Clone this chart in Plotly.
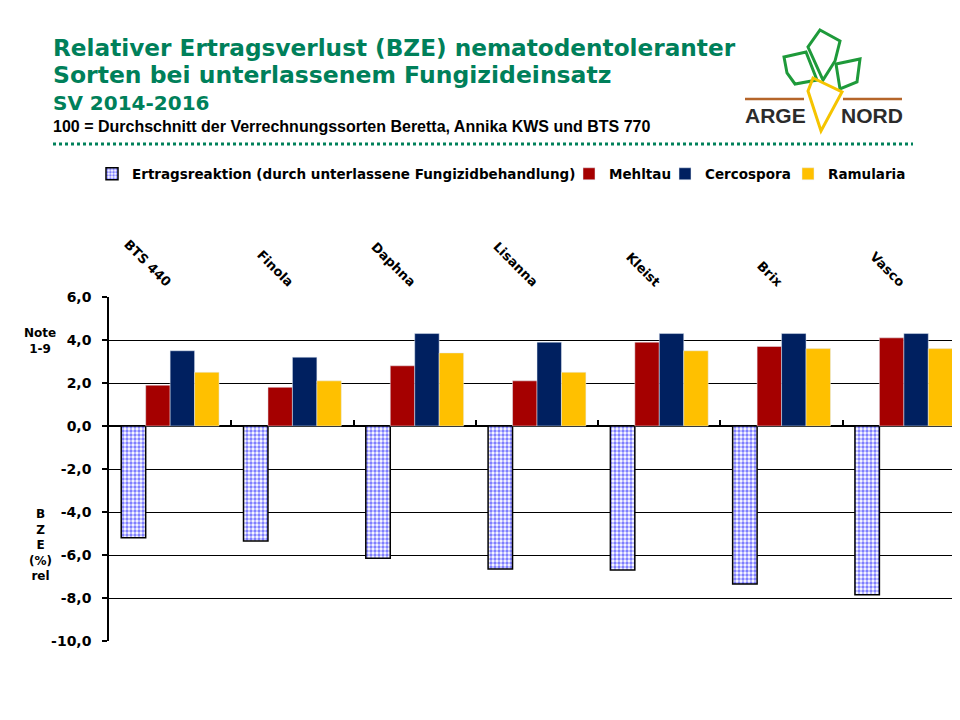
import plotly.graph_objects as go

categories = ["BTS 440", "Finola", "Daphna", "Lisanna", "Kleist", "Brix", "Vasco"]
bze = [-5.2, -5.35, -6.15, -6.65, -6.7, -7.35, -7.85]
mehltau = [1.9, 1.8, 2.8, 2.1, 3.9, 3.7, 4.1]
cercospora = [3.5, 3.2, 4.3, 3.9, 4.3, 4.3, 4.3]
ramularia = [2.5, 2.1, 3.4, 2.5, 3.5, 3.6, 3.6]
y_ticks = [6, 4, 2, 0, -2, -4, -6, -8, -10]
y_ticktext = [f"{v:.1f}".replace(".", ",") for v in y_ticks]

# the page body adds an 8px offset; all positions below are in screen pixels
OFF = 8
W, H = 960, 720
L, R, T, B = 101, 3, 289, 87
PW, PH = W - L - R, H - T - B


def px(x):
    return (x - OFF - L) / PW


def py(y):
    return (H - B - (y - OFF)) / PH


FONT = "Liberation Sans"
WIDE = "DejaVu Sans"
GREEN = "#00805A"

fig = go.Figure()
fig.add_trace(go.Bar(
    x=categories, y=bze, name="Ertragsreaktion (durch unterlassene Fungizidbehandlung)",
    legend="legend",
    marker=dict(color="white", line=dict(color="black", width=1.5),
                pattern=dict(shape=".", fgcolor="#0000FF", bgcolor="white", size=4, solidity=0.55)),
))
fig.add_trace(go.Bar(x=categories, y=mehltau, name="Mehltau", legend="legend2",
                     marker=dict(color="#A50000")))
fig.add_trace(go.Bar(x=categories, y=cercospora, name="Cercospora", legend="legend3",
                     marker=dict(color="#002060")))
fig.add_trace(go.Bar(x=categories, y=ramularia, name="Ramularia", legend="legend4",
                     marker=dict(color="#FFC000")))
# helper trace to carry the category tick marks on the zero line
fig.add_trace(go.Scatter(x=categories, y=[0] * len(categories), xaxis="x2", mode="none",
                         showlegend=False, hoverinfo="skip"))

xr = [-0.5, 6.5]
leg_font = dict(size=13.5, family=WIDE, color="black", weight="bold")


def leg(text_x):
    return dict(orientation="h", x=px(text_x - 38), y=py(174), xanchor="left", yanchor="middle",
                font=leg_font, itemwidth=30, bgcolor="rgba(0,0,0,0)", borderwidth=0)


fig.update_layout(
    width=W, height=H,
    margin=dict(l=L, r=R, t=T, b=B, autoexpand=False),
    paper_bgcolor="white", plot_bgcolor="white",
    font=dict(family=FONT, color="black"),
    barmode="group", bargap=0.2, bargroupgap=0,
    xaxis=dict(side="top", range=xr, tickangle=45, showline=False, showgrid=False,
               ticks="", tickfont=dict(size=13, family=WIDE, color="black", weight="bold"),
               ticklabelstandoff=4),
    xaxis2=dict(overlaying="x", anchor="free", position=py(426), range=xr,
                showticklabels=False, ticks="inside", tickson="boundaries", ticklen=6,
                tickcolor="black", tickwidth=1.5, showline=False, showgrid=False),
    yaxis=dict(range=[-10, 6], tickvals=y_ticks, ticktext=y_ticktext, showgrid=True,
               gridcolor="black", gridwidth=1.3, zeroline=True, zerolinecolor="black",
               zerolinewidth=1.5, showline=True, linecolor="black", linewidth=1.5,
               ticks="outside", ticklen=5, tickcolor="black", tickwidth=1.5,
               tickfont=dict(size=14, family=WIDE, color="black", weight="bold"),
               ticklabelstandoff=8),
    legend=leg(130), legend2=leg(607), legend3=leg(703), legend4=leg(826),
    showlegend=True,
)

ann = []


def text(x, y, s, size, color="black", bold=True, xanchor="left", family=WIDE):
    ann.append(dict(x=px(x), y=py(y), xref="paper", yref="paper", text=s, showarrow=False,
                    xanchor=xanchor, yanchor="middle",
                    font=dict(size=size, color=color, family=family,
                              weight="bold" if bold else "normal")))


text(51, 47, "Relativer Ertragsverlust (BZE) nematodentoleranter", 23.2, GREEN)
text(51, 75, "Sorten bei unterlassenem Fungizideinsatz", 23.5, GREEN)
text(51, 103, "SV 2014-2016", 20, GREEN)
text(51, 126, "100 = Durchschnitt der Verrechnungssorten Beretta, Annika KWS und BTS 770", 16,
     family=FONT)
text(40, 341, "Note<br>1-9", 12, xanchor="center")
text(40, 545, "B<br>Z<br>E<br>(%)<br>rel", 12, xanchor="center")
text(775, 116, "ARGE", 21, color="#2B2B2B", xanchor="center", family=FONT)
text(872, 116, "NORD", 21, color="#2B2B2B", xanchor="center", family=FONT)
fig.update_layout(annotations=ann)


def path(points, closed=True):
    s = "M " + " L ".join(f"{px(x):.5f},{py(y):.5f}" for x, y in points)
    return s + (" Z" if closed else "")


shapes = [
    dict(type="line", xref="paper", yref="paper", x0=px(53), x1=px(913), y0=py(144), y1=py(144),
         line=dict(color=GREEN, width=3, dash="dot")),
    # logo: brown ground line
    dict(type="line", xref="paper", yref="paper", x0=px(745), x1=px(804), y0=py(99), y1=py(99),
         line=dict(color="#B5652A", width=2.5)),
    dict(type="line", xref="paper", yref="paper", x0=px(843), x1=px(902), y0=py(99), y1=py(99),
         line=dict(color="#B5652A", width=2.5)),
    # leaves
    dict(type="path", xref="paper", yref="paper",
         path=path([(820, 30), (840, 41), (835, 61), (823, 80), (808, 47)]),
         line=dict(color="#1E9A3A", width=3)),
    dict(type="path", xref="paper", yref="paper",
         path=path([(784, 57), (806, 52), (817, 80), (795, 84), (787, 73)]),
         line=dict(color="#1E9A3A", width=3)),
    dict(type="path", xref="paper", yref="paper",
         path=path([(836, 64), (860, 59), (857, 82), (840, 89)]),
         line=dict(color="#1E9A3A", width=3)),
    # carrot
    dict(type="path", xref="paper", yref="paper",
         path=path([(813, 78), (842, 92), (821, 131), (808, 91)]),
         line=dict(color="#F5C400", width=3)),
]
fig.update_layout(shapes=shapes)

fig.write_html("out.html")
